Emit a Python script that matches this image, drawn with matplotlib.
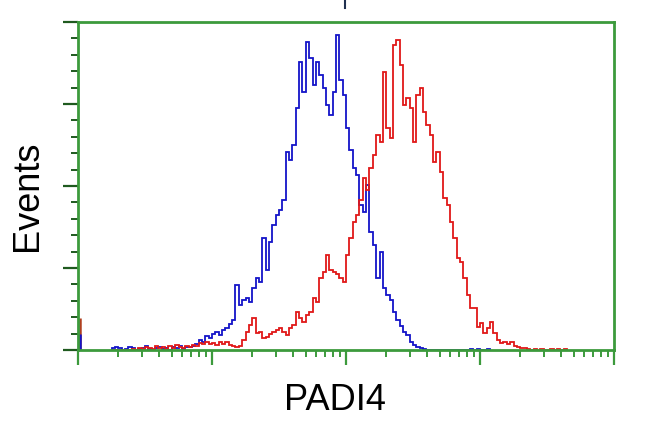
import matplotlib
matplotlib.use("Agg")
import matplotlib.pyplot as plt
from matplotlib.ticker import LogLocator, MultipleLocator, NullFormatter
from matplotlib.lines import Line2D
import numpy as np

# -------- data (events per channel) --------
log_start = 0.25      # first channel edge, log10 units
log_step = 0.025      # channel width, log10 units

blue_counts = [
    2, 3, 2, 0, 1, 3, 2, 0, 1, 2, 4, 1, 0, 2, 3, 1, 2, 0, 3, 2,
    4, 1, 3, 3, 4, 6, 10, 8, 14, 12, 16, 18, 15, 20, 22, 26, 30, 65, 45, 50,
    52, 48, 62, 72, 68, 112, 80, 108, 125, 135, 140, 150, 198, 190, 205, 242, 288, 258, 308, 292,
    265, 288, 275, 262, 245, 235, 258, 315, 270, 255, 222, 200, 182, 175, 145, 138, 165, 118, 105, 72,
    98, 62, 55, 50, 38, 30, 24, 18, 15, 8, 5, 3, 2, 1, 0, 0, 0, 0, 0, 0,
    0, 0, 0, 0, 0, 0, 0, 1, 0, 1, 0, 0, 1,
]
red_counts = [
    0, 0, 0, 0, 0, 0, 1, 0, 2, 1, 3, 2, 1, 4, 2, 3, 1, 4, 2, 5,
    3, 2, 4, 3, 5, 4, 7, 6, 8, 6, 7, 5, 8, 6, 8, 5, 4, 3, 4, 10,
    18, 25, 32, 17, 18, 12, 13, 16, 18, 20, 22, 18, 15, 22, 25, 38, 32, 28, 35, 38,
    52, 48, 72, 78, 95, 80, 78, 76, 72, 68, 95, 112, 128, 135, 150, 172, 160, 182, 195, 215,
    208, 278, 222, 212, 305, 310, 285, 245, 252, 242, 208, 255, 262, 238, 225, 215, 188, 198, 178, 152,
    145, 128, 112, 92, 88, 72, 55, 42, 42, 23, 27, 17, 22, 28, 17, 10, 7, 8, 6, 8,
    4, 3, 2, 2, 1, 0, 1, 0, 1, 0, 0, 1, 0, 1, 0, 1,
]
# events piled up in the first channel (left edge)
blue_first = 16
red_first = 32

y_top = 328

green = "#3c9a3c"
dark = "#1f5a1f"

fig = plt.figure(figsize=(6.5, 4.32), dpi=100)
ax = fig.add_axes([78 / 650, 1 - 350 / 432, (614 - 78) / 650, (350 - 22) / 432])

blue_edges = 10 ** (log_start + log_step * np.arange(len(blue_counts) + 1))
red_edges = 10 ** (log_start + log_step * np.arange(len(red_counts) + 1))
ax.stairs(blue_counts, blue_edges, color="#1414c8", linewidth=1.3)
ax.stairs(red_counts, red_edges, color="#e01818", linewidth=1.3)
ax.vlines(1.035, 0, red_first, color="#b04020", linewidth=1.8)
ax.vlines(1.035, 0, blue_first, color="#1414c8", linewidth=1.8)

ax.set_xscale("log")
ax.set_xlim(1, 1e4)
ax.set_ylim(0, y_top)

ax.xaxis.set_major_locator(LogLocator(base=10, numticks=10))
ax.xaxis.set_minor_locator(LogLocator(base=10, subs=np.arange(2, 10), numticks=20))
ax.xaxis.set_major_formatter(NullFormatter())
ax.xaxis.set_minor_formatter(NullFormatter())
ax.yaxis.set_major_locator(MultipleLocator(y_top / 4))
ax.yaxis.set_minor_locator(MultipleLocator(y_top / 20))
ax.yaxis.set_major_formatter(NullFormatter())

for s in ax.spines.values():
    s.set_color(green)
    s.set_linewidth(2.0)

ax.tick_params(axis="x", which="major", length=11, width=1.6, color=green, direction="out")
ax.tick_params(axis="x", which="minor", length=5, width=1.4, color=green, direction="out")
ax.tick_params(axis="y", which="major", length=11, width=1.6, color=dark, direction="out")
ax.tick_params(axis="y", which="minor", length=5, width=1.4, color=dark, direction="out")

fig.text(335 / 650, 1 - 400 / 432, "PADI4", ha="center", va="center",
         fontsize=26, family="Liberation Sans")
fig.text(27 / 650, 1 - 196 / 432, "Events", ha="center", va="center", rotation=90,
         fontsize=26, family="Liberation Sans")

# small mark above the frame (cut-off title)
fig.add_artist(Line2D([345 / 650, 345 / 650], [1 - 1 / 432, 1 - 8 / 432],
                      transform=fig.transFigure, color="#203050", linewidth=1.5))

fig.savefig("out.png", dpi=100)
